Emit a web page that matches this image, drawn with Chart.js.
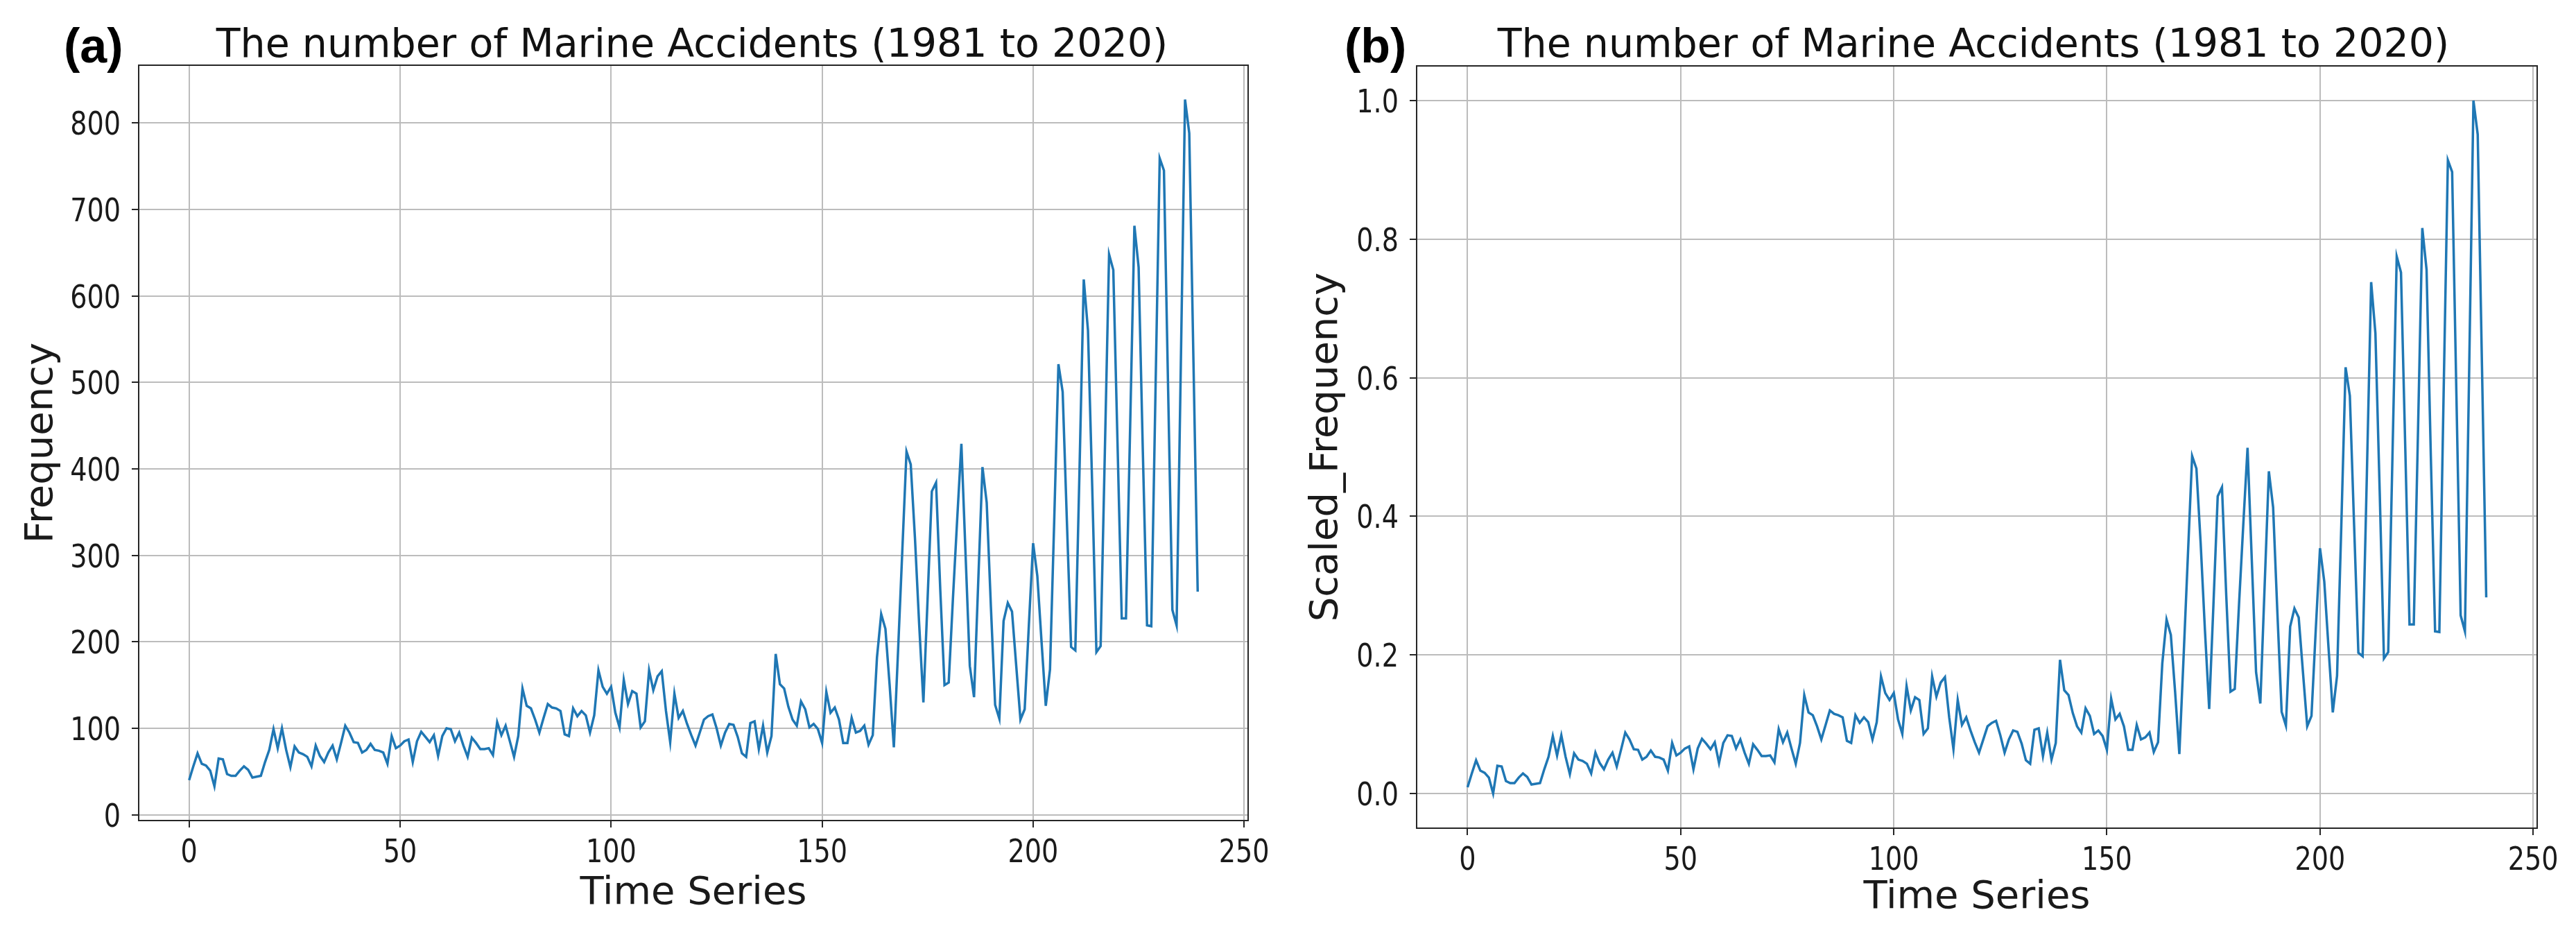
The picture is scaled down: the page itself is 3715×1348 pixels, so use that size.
<!DOCTYPE html>
<html>
<head>
<meta charset="utf-8">
<script src="https://cdn.jsdelivr.net/npm/chart.js@4.4.1/dist/chart.umd.min.js"></script>
<style>
  html, body { margin: 0; padding: 0; background: #fff; }
  body { width: 3715px; height: 1348px; position: relative; overflow: hidden; font-family: 'DejaVu Sans', sans-serif; }
  canvas { position: absolute; top: 0; }
  #chartA { left: 0; }
  #chartB { left: 1860px; }
  .tag { position: absolute; top: 31px; font: bold 70px/70px 'Liberation Sans', Arial, sans-serif; color: #000; }
  .title { position: absolute; top: 34px; font: 57px/57px 'DejaVu Sans', sans-serif; color: #111; white-space: nowrap; transform: translateX(-50%); }
</style>
</head>
<body>
<div class="tag" style="left:92px">(a)</div>
<div class="tag" style="left:1939px">(b)</div>
<div class="title" style="left:998px">The number of Marine Accidents (1981 to 2020)</div>
<div class="title" style="left:2846px">The number of Marine Accidents (1981 to 2020)</div>
<canvas id="chartA" width="1860" height="1348"></canvas>
<canvas id="chartB" width="1855" height="1348"></canvas>
<script>
// monthly accident counts
const frequency = [
  40, 56, 71, 59, 57, 51, 33, 65, 64, 47, 45, 45, 51, 56, 52, 43, 44, 45, 61, 75,
  99, 77, 100, 75, 55, 79, 72, 70, 67, 56, 80, 68, 61, 72, 80, 64, 83, 103, 95, 84,
  83, 72, 75, 82, 75, 74, 72, 59, 91, 77, 80, 85, 87, 61, 85, 96, 90, 84, 92, 68,
  91, 100, 99, 85, 95, 80, 67, 89, 83, 76, 76, 77, 69, 107, 92, 103, 85, 67, 91, 146,
  126, 123, 110, 95, 112, 128, 124, 123, 120, 93, 91, 123, 114, 120, 115, 95, 115, 167, 148, 140,
  148, 118, 101, 156, 128, 143, 140, 101, 108, 167, 144, 160, 166, 120, 84, 140, 112, 120, 105, 92,
  80, 95, 110, 114, 116, 100, 80, 95, 105, 104, 90, 71, 67, 106, 108, 76, 103, 72, 91, 186,
  151, 146, 125, 110, 103, 131, 122, 101, 105, 99, 83, 142, 118, 124, 110, 83, 83, 112, 95, 97,
  103, 81, 92, 182, 232, 215, 150, 78, 190, 305, 420, 405, 320, 220, 130, 250, 374, 384, 260, 150,
  153, 250, 341, 429, 300, 172, 136, 270, 402, 361, 240, 127, 111, 224, 245, 235, 172, 110, 122, 220,
  314, 276, 200, 126, 168, 340, 521, 489, 340, 194, 190, 400, 619, 560, 380, 188, 195, 420, 648, 630,
  430, 227, 227, 450, 681, 633, 420, 219, 218, 490, 759, 745, 490, 237, 219, 520, 827, 788, 523, 258
];

// min-max scaled series
const scaledFrequency = [
  0.009, 0.029, 0.048, 0.033, 0.030, 0.023, 0.000, 0.040, 0.039, 0.018, 0.015, 0.015, 0.023, 0.029, 0.024, 0.013, 0.014, 0.015, 0.035, 0.053,
  0.083, 0.055, 0.084, 0.053, 0.028, 0.058, 0.049, 0.047, 0.043, 0.029, 0.059, 0.044, 0.035, 0.049, 0.059, 0.039, 0.063, 0.088, 0.078, 0.064,
  0.063, 0.049, 0.053, 0.062, 0.053, 0.052, 0.049, 0.033, 0.073, 0.055, 0.059, 0.065, 0.068, 0.035, 0.065, 0.079, 0.072, 0.064, 0.074, 0.044,
  0.073, 0.084, 0.083, 0.065, 0.078, 0.059, 0.043, 0.071, 0.063, 0.054, 0.054, 0.055, 0.045, 0.093, 0.074, 0.088, 0.065, 0.043, 0.073, 0.142,
  0.117, 0.113, 0.097, 0.078, 0.099, 0.120, 0.115, 0.113, 0.110, 0.076, 0.073, 0.113, 0.102, 0.110, 0.103, 0.078, 0.103, 0.169, 0.145, 0.135,
  0.145, 0.107, 0.086, 0.155, 0.120, 0.139, 0.135, 0.086, 0.094, 0.169, 0.140, 0.160, 0.168, 0.110, 0.064, 0.135, 0.099, 0.110, 0.091, 0.074,
  0.059, 0.078, 0.097, 0.102, 0.105, 0.084, 0.059, 0.078, 0.091, 0.089, 0.072, 0.048, 0.043, 0.092, 0.094, 0.054, 0.088, 0.049, 0.073, 0.193,
  0.149, 0.142, 0.116, 0.097, 0.088, 0.123, 0.112, 0.086, 0.091, 0.083, 0.063, 0.137, 0.107, 0.115, 0.097, 0.063, 0.063, 0.099, 0.078, 0.081,
  0.088, 0.060, 0.074, 0.188, 0.251, 0.229, 0.147, 0.057, 0.198, 0.343, 0.487, 0.469, 0.361, 0.236, 0.122, 0.273, 0.429, 0.442, 0.286, 0.147,
  0.151, 0.273, 0.388, 0.499, 0.336, 0.175, 0.130, 0.298, 0.465, 0.413, 0.261, 0.118, 0.098, 0.241, 0.267, 0.254, 0.175, 0.097, 0.112, 0.236,
  0.354, 0.306, 0.210, 0.117, 0.170, 0.387, 0.615, 0.574, 0.387, 0.203, 0.198, 0.462, 0.738, 0.664, 0.437, 0.195, 0.204, 0.487, 0.775, 0.752,
  0.500, 0.244, 0.244, 0.525, 0.816, 0.756, 0.487, 0.234, 0.233, 0.576, 0.914, 0.897, 0.576, 0.257, 0.234, 0.613, 1.000, 0.951, 0.617, 0.283
];

const timeIndex = frequency.map((_, i) => i);
const xTicks = [0, 50, 100, 150, 200, 250];
const yTicksA = [0, 100, 200, 300, 400, 500, 600, 700, 800];
const yTicksB = [0, 0.2, 0.4, 0.6, 0.8, 1.0];

Chart.defaults.font.family = "'DejaVu Sans', sans-serif";
Chart.defaults.color = '#1a1a1a';

// matplotlib draws all four spines, Chart.js only two
const frameBox = {
  id: 'frameBox',
  afterDraw(chart) {
    const { ctx, chartArea: a } = chart;
    ctx.save();
    ctx.strokeStyle = '#262626';
    ctx.lineWidth = 2;
    ctx.strokeRect(a.left, a.top, a.right - a.left, a.bottom - a.top);
    ctx.restore();
  }
};

// tick labels in the source are narrow and tall, so draw them squeezed
function tickTextPlugin(yFmt) {
  return {
    id: 'tickText',
    afterDraw(chart) {
      const { ctx, chartArea: a, scales } = chart;
      const put = (txt, x, y, align) => {
        ctx.save();
        ctx.translate(x, y);
        ctx.scale(0.83, 1);
        ctx.textAlign = align;
        ctx.textBaseline = 'alphabetic';
        ctx.fillText(txt, 0, 0);
        ctx.restore();
      };
      ctx.save();
      ctx.fillStyle = '#1a1a1a';
      ctx.font = "46px 'DejaVu Sans'";
      scales.x.ticks.forEach(t => put(String(t.value), scales.x.getPixelForValue(t.value), a.bottom + 60, 'center'));
      scales.y.ticks.forEach(t => put(yFmt(t.value), a.left - 26, scales.y.getPixelForValue(t.value) + 17, 'right'));
      ctx.restore();
    }
  };
}

// 5% margins like matplotlib autoscale
const padRange = (lo, hi) => { const p = (hi - lo) * 0.05; return [lo - p, hi + p]; };

function makePanel(id, values, yTicks, yFmt, yTitle, g) {
  const [xMin, xMax] = padRange(timeIndex[0], timeIndex[timeIndex.length - 1]);
  const [yMin, yMax] = padRange(Math.min(...values), Math.max(...values));
  const gridCfg = { color: '#bcbcbc', lineWidth: 2, tickColor: '#262626', tickWidth: 2, tickLength: 10 };

  return new Chart(document.getElementById(id), {
    type: 'line',
    data: {
      datasets: [{
        data: values.map((v, i) => ({ x: timeIndex[i], y: v })),
        borderColor: '#1f77b4',
        borderWidth: 3.5,
        pointRadius: 0,
        tension: 0,
        fill: false
      }]
    },
    options: {
      responsive: false,
      animation: false,
      devicePixelRatio: 1,
      layout: { padding: { top: g.top, right: g.right, left: 0, bottom: 0 } },
      plugins: { legend: { display: false }, tooltip: { enabled: false } },
      scales: {
        x: {
          type: 'linear',
          min: xMin, max: xMax,
          afterBuildTicks: s => { s.ticks = xTicks.map(v => ({ value: v })); },
          afterFit: s => { s.height = g.xh; },
          grid: gridCfg,
          border: { display: false },
          ticks: { display: false },
          title: { display: true, text: 'Time Series', font: { size: 56 }, padding: { top: 0, bottom: g.xtPad } }
        },
        y: {
          min: yMin, max: yMax,
          afterBuildTicks: s => { s.ticks = yTicks.map(v => ({ value: v })); },
          afterFit: s => { s.width = g.yw; },
          grid: gridCfg,
          border: { display: false },
          ticks: { display: false },
          title: { display: true, text: yTitle, font: { size: 56 }, padding: { top: g.ytPad, bottom: 0 } }
        }
      }
    },
    plugins: [frameBox, tickTextPlugin(yFmt)]
  });
}

makePanel('chartA', frequency, yTicksA, v => String(v), 'Frequency',
  { top: 94, right: 60, xh: 165, yw: 200, xtPad: 26, ytPad: 27 });
makePanel('chartB', scaledFrequency, yTicksB, v => v.toFixed(1), 'Scaled_Frequency',
  { top: 95, right: 56, xh: 154, yw: 183, xtPad: 20, ytPad: 20 });
</script>
</body>
</html>
